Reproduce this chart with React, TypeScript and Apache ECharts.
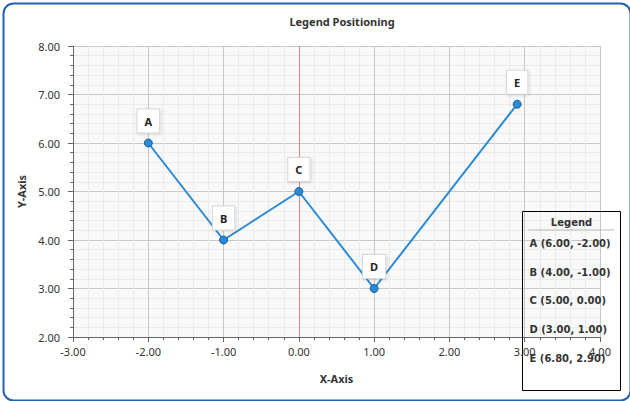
import React, { useEffect, useRef } from "react";
import * as echarts from "echarts";

const names = ["A", "B", "C", "D", "E"];
const xValues = [-2, -1, 0, 1, 2.9];
const yValues = [6, 4, 5, 3, 6.8];

const titleText = "Legend Positioning";
const xAxisName = "X-Axis";
const yAxisName = "Y-Axis";
const legendTitle = "Legend";

const FONT = "Noto Sans, DejaVu Sans, sans-serif";
const LFONT = "DejaVu Sans, Noto Sans, sans-serif";

export default function App() {
  const ref = useRef<HTMLDivElement>(null);
  useEffect(() => {
    if (!ref.current) return;
    const chart = echarts.init(ref.current, null, { renderer: "svg" });
    const data = names.map((n, i) => ({ value: [xValues[i], yValues[i]], name: n }));
    const legendItems = names.map((n, i) => ({
      type: "text",
      x: 7,
      y: 32 + i * 28.7,
      z: 101,
      style: {
        text: `${n} (${yValues[i].toFixed(2)}, ${xValues[i].toFixed(2)})`,
        font: `bold 10px ${LFONT}`,
        fill: "#333",
        textVerticalAlign: "middle",
      },
    }));
    chart.setOption({
      animation: false,
      backgroundColor: "#fff",
      title: {
        text: titleText,
        left: 337,
        textAlign: "center",
        top: 11,
        textStyle: { fontFamily: FONT, fontSize: 11, fontWeight: "bold", color: "#333" },
      },
      grid: { left: 73, right: 30, top: 46, bottom: 64, show: true, backgroundColor: "#f9f9f9", borderWidth: 0 },
      xAxis: {
        type: "value",
        min: -3,
        max: 4,
        interval: 1,
        name: xAxisName,
        nameLocation: "middle",
        nameGap: 36,
        nameTextStyle: { fontFamily: FONT, fontSize: 11, fontWeight: "bold", color: "#333" },
        axisLine: { show: true, onZero: false, lineStyle: { color: "#666" } },
        axisTick: { show: true, length: 5, lineStyle: { color: "#666" } },
        minorTick: { show: true, splitNumber: 5, length: 3, lineStyle: { color: "#666" } },
        axisLabel: { fontFamily: FONT, fontSize: 11, color: "#333", margin: 9, formatter: (v: number) => v.toFixed(2) },
        splitLine: { show: true, lineStyle: { color: "#c8c8c8" } },
        minorSplitLine: { show: true, lineStyle: { color: "#ebebeb" } },
      },
      yAxis: {
        type: "value",
        min: 2,
        max: 8,
        interval: 1,
        name: yAxisName,
        nameLocation: "middle",
        nameGap: 39,
        nameTextStyle: { fontFamily: FONT, fontSize: 11, fontWeight: "bold", color: "#333" },
        axisLine: { show: true, onZero: false, lineStyle: { color: "#666" } },
        axisTick: { show: true, length: 5, lineStyle: { color: "#666" } },
        minorTick: { show: true, splitNumber: 5, length: 3, lineStyle: { color: "#666" } },
        axisLabel: { fontFamily: FONT, fontSize: 11, color: "#333", margin: 13, formatter: (v: number) => v.toFixed(2) },
        splitLine: { show: true, lineStyle: { color: "#c8c8c8" } },
        minorSplitLine: { show: true, lineStyle: { color: "#ebebeb" } },
      },
      series: [
        {
          type: "line",
          data,
          symbol: "circle",
          symbolSize: 8,
          itemStyle: { color: "#2a8ad6", borderColor: "#1b5e98", borderWidth: 1 },
          lineStyle: { color: "#2a8ad6", width: 2 },
          label: {
            show: true,
            position: "top",
            distance: 6,
            formatter: (p: any) => p.name,
            fontFamily: FONT,
            fontSize: 11,
            fontWeight: "bold",
            color: "#222",
            backgroundColor: "#fff",
            borderColor: "#d8d8d8",
            borderWidth: 1,
            padding: [6, 7, 6, 7],
            shadowBlur: 3,
            shadowColor: "rgba(0,0,0,0.15)",
            shadowOffsetX: 1,
            shadowOffsetY: 1,
          },
          markLine: {
            silent: true,
            symbol: "none",
            label: { show: false },
            lineStyle: { color: "#d88888", type: "solid", width: 1 },
            data: [{ xAxis: 0 }],
            z: 1,
          },
          z: 3,
        },
      ],
      graphic: [
        {
          type: "rect",
          left: 1,
          top: 1,
          z: 100,
          shape: { width: 627, height: 397, r: 10 },
          style: { fill: "none", stroke: "#2462ab", lineWidth: 2 },
          silent: true,
        },
        {
          type: "group",
          left: 522,
          top: 211,
          z: 100,
          children: [
            {
              type: "rect",
              z: 100,
              shape: { x: 0, y: 0, width: 98, height: 179 },
              style: { fill: "rgba(255,255,255,0)", stroke: "#000", lineWidth: 1 },
            },
            {
              type: "text",
              x: 49,
              y: 11,
              z: 101,
              style: { text: legendTitle, font: `bold 10px ${LFONT}`, fill: "#333", textAlign: "center", textVerticalAlign: "middle" },
            },
            {
              type: "line",
              z: 101,
              shape: { x1: 6, y1: 18.5, x2: 92, y2: 18.5 },
              style: { stroke: "#bbb", lineWidth: 1 },
            },
            ...legendItems,
          ],
        },
      ],
    });
    return () => chart.dispose();
  }, []);
  return <div ref={ref} style={{ position: "fixed", left: 0, top: 0, width: 630, height: 401 }} />;
}
